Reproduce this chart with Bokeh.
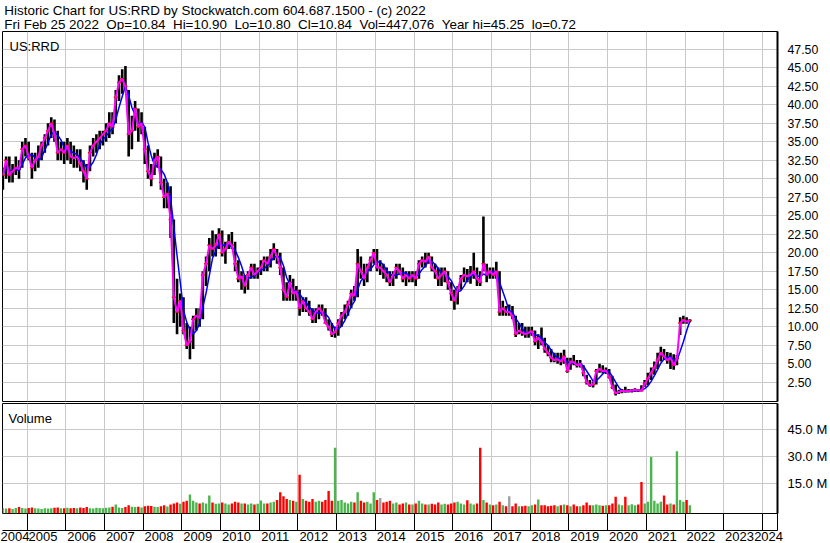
import numpy as np
import pandas as pd
from bokeh.plotting import figure
from bokeh.models import (Range1d, FixedTicker, PrintfTickFormatter, LinearAxis, Label,
                          CustomJSTickFormatter, ColumnDataSource)
from bokeh.layouts import column
from bokeh.embed import file_html
from bokeh.resources import INLINE

FONT = "Liberation Sans"
NB = "\u00a0"

header_line1 = "Historic Chart for US:RRD by Stockwatch.com 604.687.1500 - (c) 2022"
header_line2 = ("Fri Feb 25 2022 " + NB + "Op=10.84 " + NB + "Hi=10.90 " + NB + "Lo=10.80 " + NB
                + "Cl=10.84 " + NB + "Vol=447,076 " + NB + "Year hi=45.25 " + NB + "lo=0.72")
symbol = "US:RRD"
volume_title = "Volume"

# monthly data, May 2004 .. Feb 2022
first_year, first_month = 2004, 5

high = [
    31.5, 33.0, 33.0, 32.0, 33.0, 32.5, 35.0, 35.5,
    35.0, 33.5, 33.5, 34.5, 35.0, 36.0, 37.5, 38.3, 38.0, 36.5, 35.0, 35.0,
    35.5, 35.0, 34.5, 34.0, 34.0, 32.5, 32.0, 34.5, 35.5, 36.0, 36.5, 36.5,
    37.5, 39.0, 39.0, 42.0, 44.0, 44.8, 45.25, 42.0, 38.5, 40.5, 39.5, 39.0,
    37.0, 34.5, 32.0, 33.5, 34.0, 33.0, 30.0, 29.5, 29.0, 24.5, 16.5, 14.5,
    14.0, 10.5, 10.0, 11.5, 12.5, 12.5, 17.5, 19.5, 22.0, 23.0, 22.5, 23.3,
    23.0, 21.5, 22.5, 22.8, 21.5, 19.0, 17.5, 17.0, 17.5, 18.5, 18.5, 18.0,
    19.0, 19.5, 19.5, 20.5, 21.3, 20.5, 20.0, 18.0, 16.0, 17.0, 16.5, 15.5,
    15.0, 14.0, 14.0, 13.5, 12.5, 12.5, 13.0, 13.0, 12.5, 11.0, 10.5, 10.0,
    11.0, 12.0, 13.0, 13.5, 15.0, 15.5, 20.5, 19.5, 18.5, 18.5, 19.5, 20.5,
    20.5, 19.0, 18.5, 18.0, 17.5, 17.5, 18.5, 18.5, 18.0, 17.5, 17.5, 17.5,
    17.5, 19.0, 19.5, 20.0, 20.0, 19.5, 18.5, 18.0, 18.0, 18.0, 17.5, 16.0,
    15.0, 15.5, 17.0, 18.0, 17.8, 18.2, 20.0, 18.0, 17.5, 24.9, 18.5, 18.0,
    18.0, 18.8, 17.5, 13.5, 12.8, 13.0, 12.8, 11.5, 10.5, 10.5, 10.0, 10.0,
    10.0, 9.5, 9.0, 9.9, 8.5, 7.5, 7.0, 6.5, 6.5, 6.5, 6.9, 5.8,
    5.8, 6.2, 5.5, 5.5, 4.8, 3.5, 2.8, 2.6, 4.3, 5.0, 4.8, 4.5,
    4.3, 3.3, 2.2, 1.5, 1.6, 1.9, 1.6, 1.6, 1.7, 1.6, 2.1, 2.8,
    3.8, 4.5, 5.3, 6.5, 7.3, 7.0, 6.6, 6.5, 6.3, 6.2, 11.3, 11.5,
    11.3, 11.0,
]
low = [
    28.5, 30.0, 29.5, 29.5, 30.5, 30.0, 31.5, 33.0,
    32.5, 30.0, 31.0, 31.5, 32.5, 33.5, 34.5, 35.5, 35.0, 32.5, 32.5, 32.0,
    32.5, 32.0, 31.5, 31.5, 31.0, 29.5, 28.5, 31.0, 33.0, 33.5, 34.0, 34.5,
    35.0, 35.5, 36.0, 37.5, 40.5, 41.5, 42.0, 33.0, 34.0, 36.5, 35.0, 36.0,
    32.0, 30.0, 29.0, 30.5, 31.5, 28.5, 26.0, 26.0, 22.0, 10.5, 9.0, 10.0,
    9.0, 7.0, 5.6, 7.0, 9.5, 10.0, 11.0, 15.5, 17.5, 19.5, 19.5, 20.5,
    19.5, 18.5, 20.5, 20.5, 17.5, 16.0, 15.0, 14.5, 15.0, 16.5, 16.5, 16.5,
    17.0, 17.5, 17.5, 18.0, 19.0, 18.5, 17.0, 13.5, 13.5, 13.5, 13.5, 13.5,
    11.5, 12.0, 12.0, 11.5, 10.5, 10.5, 11.0, 11.5, 10.5, 9.5, 8.6, 8.5,
    8.8, 10.0, 11.0, 11.5, 12.5, 13.5, 14.0, 16.5, 15.5, 16.0, 17.5, 18.5,
    17.5, 17.0, 16.5, 16.0, 15.5, 15.5, 16.5, 17.0, 16.0, 15.5, 16.0, 16.0,
    15.5, 16.5, 18.0, 18.0, 18.5, 17.5, 16.5, 15.5, 15.5, 16.0, 15.0, 13.5,
    12.3, 13.0, 15.0, 16.0, 16.0, 15.8, 16.5, 15.5, 15.5, 17.5, 16.0, 16.5,
    16.5, 16.5, 11.5, 11.5, 11.5, 11.5, 11.0, 8.6, 9.0, 8.8, 8.5, 8.5,
    8.8, 7.5, 7.0, 7.5, 6.5, 6.0, 5.2, 5.2, 5.0, 4.8, 5.0, 3.8,
    4.2, 4.8, 4.5, 4.5, 3.3, 2.2, 1.9, 1.8, 2.2, 3.8, 3.7, 3.6,
    3.0, 1.6, 0.72, 0.9, 1.0, 1.1, 1.1, 1.1, 1.2, 1.2, 1.3, 1.9,
    2.1, 2.8, 3.5, 4.3, 5.3, 5.5, 5.0, 4.3, 4.2, 4.8, 8.9, 10.4,
    10.4, 10.6,
]
close = [
    30.5, 32.5, 30.5, 31.0, 31.5, 31.3, 34.0, 34.5,
    33.0, 31.5, 32.5, 33.0, 34.5, 35.5, 36.5, 37.5, 36.0, 33.5, 34.0, 33.5,
    34.5, 33.0, 32.8, 33.0, 32.0, 31.0, 30.0, 33.5, 34.5, 35.0, 35.5, 36.0,
    36.5, 37.5, 37.0, 41.0, 43.0, 43.5, 42.5, 36.0, 36.5, 39.5, 37.0, 37.5,
    34.0, 31.0, 30.0, 32.5, 33.0, 29.5, 27.5, 28.0, 24.5, 14.0, 12.0, 13.5,
    9.5, 7.5, 8.0, 11.0, 11.5, 11.2, 17.0, 18.5, 21.0, 20.5, 21.0, 22.5,
    20.0, 20.5, 21.5, 21.0, 18.5, 16.5, 16.8, 15.5, 17.0, 18.0, 17.0, 17.5,
    18.0, 19.0, 18.5, 19.5, 20.5, 19.5, 18.0, 15.0, 14.0, 16.0, 14.5, 14.8,
    12.5, 13.5, 12.5, 12.0, 11.0, 12.0, 12.5, 12.0, 10.5, 10.0, 9.0, 9.3,
    10.5, 11.5, 12.0, 13.0, 14.5, 14.2, 18.5, 17.5, 16.5, 18.0, 19.0, 20.0,
    18.0, 18.0, 17.5, 17.0, 16.0, 17.0, 18.0, 17.5, 16.5, 17.0, 16.5, 17.0,
    16.5, 18.5, 19.0, 18.8, 19.5, 18.0, 17.5, 16.5, 17.0, 17.5, 16.0, 14.5,
    13.5, 15.0, 16.5, 17.0, 16.8, 17.0, 17.5, 16.5, 16.0, 18.5, 17.0, 17.5,
    17.0, 17.5, 12.0, 12.5, 12.0, 12.0, 11.5, 9.0, 9.5, 9.2, 9.0, 9.2,
    9.4, 8.0, 8.5, 8.0, 7.0, 6.5, 5.8, 5.5, 5.6, 5.3, 6.0, 4.0,
    5.3, 5.2, 4.8, 5.0, 3.8, 2.5, 2.1, 2.2, 4.0, 4.3, 4.0, 4.1,
    3.2, 1.8, 1.0, 1.2, 1.35, 1.3, 1.32, 1.4, 1.45, 1.42, 1.35, 2.3,
    3.0, 3.8, 4.5, 5.5, 6.5, 6.0, 5.5, 5.8, 4.8, 5.7, 10.5, 10.9,
    10.7, 10.84,
]
volume_m = [
    1.5, 1.2, 1.3, 1.0, 1.5, 2.1, 1.5, 1.2,
    1.5, 1.8, 1.3, 1.2, 1.0, 1.4, 1.2, 1.3, 1.6, 1.8, 1.3, 1.4,
    1.6, 1.3, 1.5, 1.4, 1.8, 1.5, 2.0, 1.4, 1.2, 1.6, 1.5, 1.3,
    1.6, 1.8, 2.2, 3.5, 1.8, 1.5, 2.0, 3.0, 2.2, 2.0, 2.2, 1.8,
    2.5, 2.8, 2.6, 2.2, 2.0, 2.5, 3.0, 2.4, 3.5, 4.0, 4.5, 3.8,
    5.0, 5.5, 9.0, 5.5, 4.5, 4.0, 4.5, 4.0, 8.5, 4.5, 3.8, 4.0,
    4.5, 4.0, 3.5, 4.0, 5.0, 4.5, 4.0, 4.0, 3.5, 4.0, 3.5, 3.8,
    5.6, 4.0, 4.0, 4.5, 5.0, 6.0, 10.2, 8.0, 6.5, 6.0, 5.5, 5.0,
    20.0, 6.5, 5.5, 5.0, 6.5, 5.0, 5.5, 5.0, 6.0, 11.0, 5.5, 35.0,
    5.5, 6.0, 4.5, 4.0, 5.0, 4.5, 10.2, 5.5, 4.5, 5.0, 4.0, 10.2,
    6.0, 7.0, 4.5, 5.0, 5.5, 4.0, 4.5, 3.5, 4.0, 4.5, 3.5, 3.5,
    4.0, 5.5, 4.0, 3.5, 3.5, 3.8, 3.5, 4.5, 3.5, 3.8, 3.5, 4.0,
    4.5, 5.0, 4.0, 3.5, 5.8, 4.0, 3.5, 4.0, 35.0, 6.0, 4.5, 3.5,
    3.0, 3.5, 5.0, 3.0, 2.5, 8.1, 2.5, 4.0, 2.5, 2.5, 2.8, 2.5,
    3.0, 3.5, 6.2, 3.0, 3.0, 2.5, 2.8, 3.0, 2.5, 3.0, 3.5, 3.0,
    2.5, 3.5, 2.5, 2.5, 3.0, 4.6, 3.0, 3.0, 3.5, 3.0, 2.8, 3.0,
    3.0, 4.0, 7.7, 3.5, 3.0, 7.7, 3.0, 3.6, 3.0, 3.5, 16.0, 4.0,
    5.0, 29.9, 5.5, 4.0, 5.0, 8.4, 3.5, 4.0, 3.5, 33.0, 6.0, 5.0,
    5.9, 3.0,
]

price_ticks = [2.5, 5.0, 7.5, 10.0, 12.5, 15.0, 17.5, 20.0, 22.5, 25.0, 27.5, 30.0,
               32.5, 35.0, 37.5, 40.0, 42.5, 45.0, 47.5]
volume_ticks = [15, 30, 45]
year_lines = list(range(2005, 2025))
year_labels = list(range(2004, 2025))

# ---------------------------------------------------------------- derived
n = len(close)
t = np.array([first_year + (first_month - 1 + i + 0.5) / 12.0 for i in range(n)])
ma_long = pd.Series(close).rolling(4, min_periods=1).mean().values
prev = np.r_[close[0], close[:-1]]
cl_arr = np.array(close)
vcol = np.where(cl_arr > prev, "#4CB44C", np.where(cl_arr < prev, "#FF0000", "#A0A0A0"))

X0, X1 = 2004.365, 2024.39
PY0, PY1 = -0.1, 49.9
VY0, VY1 = -1.56, 59.6
GRID = "#C8C8C8"
W = 830

src = ColumnDataSource(dict(t=t, hi=high, lo=low, cl=close, ma=ma_long,
                            vol=volume_m, vcol=vcol))

# ---------------------------------------------------------------- header
HH = 30
h = figure(width=W, height=HH, x_range=Range1d(0, W), y_range=Range1d(0, HH),
           min_border=0, toolbar_location=None, output_backend="svg",
           x_axis_location=None, y_axis_location=None)
h.outline_line_color = None
h.xgrid.grid_line_color = None
h.ygrid.grid_line_color = None
h.add_layout(Label(x=2, y=HH, y_offset=-9.5, text=header_line1, text_baseline="alphabetic",
                   text_font=FONT, text_font_size="13.4px", text_color="black"))
h.add_layout(Label(x=2, y=HH, y_offset=-23.5, text=header_line2, text_baseline="alphabetic",
                   text_font=FONT, text_font_size="13.4px", text_color="black"))

# ---------------------------------------------------------------- price
p = figure(width=W, height=372, x_range=Range1d(X0, X1), y_range=Range1d(PY0, PY1),
           toolbar_location=None, output_backend="svg",
           x_axis_location=None, y_axis_location="right",
           min_border_left=2, min_border_right=49, min_border_top=1, min_border_bottom=1)
p.outline_line_color = "black"
p.outline_line_width = 1
p.xgrid.ticker = FixedTicker(ticks=year_lines)
p.ygrid.ticker = FixedTicker(ticks=price_ticks)
for g in (p.xgrid, p.ygrid):
    g.grid_line_color = GRID
    g.grid_line_width = 1
ya = p.yaxis[0]
ya.ticker = FixedTicker(ticks=price_ticks)
ya.formatter = PrintfTickFormatter(format="%.2f")
ya.major_tick_line_color = None
ya.minor_tick_line_color = None
ya.axis_line_color = "black"
ya.axis_line_width = 2
ya.major_label_standoff = 4
ya.major_label_text_font = FONT
ya.major_label_text_font_size = "12.3px"
ya.major_label_text_color = "black"

p.segment(x0="t", y0="lo", x1="t", y1="hi", source=src, line_color="black", line_width=2.6)
p.scatter(x="t", y="cl", source=src, marker="dash", size=4, line_color="#FF0000", line_width=1.5)
p.line(x="t", y="ma", source=src, line_color="#0000FF", line_width=1.5)
p.line(x="t", y="cl", source=src, line_color="#FF00FF", line_width=2)
p.add_layout(Label(x=X0, y=PY1, x_offset=7, y_offset=-15, text=symbol, text_baseline="alphabetic",
                   text_font=FONT, text_font_size="13px", text_color="black"))

# ---------------------------------------------------------------- volume
v = figure(width=W, height=141, x_range=p.x_range, y_range=Range1d(VY0, VY1),
           toolbar_location=None, output_backend="svg",
           x_axis_location=None, y_axis_location="right",
           min_border_left=2, min_border_right=49, min_border_top=1, min_border_bottom=0)
v.outline_line_color = "black"
v.outline_line_width = 1
v.xgrid.ticker = FixedTicker(ticks=year_lines)
v.ygrid.ticker = FixedTicker(ticks=volume_ticks)
for g in (v.xgrid, v.ygrid):
    g.grid_line_color = GRID
    g.grid_line_width = 1
vy = v.yaxis[0]
vy.ticker = FixedTicker(ticks=volume_ticks)
vy.formatter = PrintfTickFormatter(format="%.1f M")
vy.major_tick_line_color = None
vy.minor_tick_line_color = None
vy.axis_line_color = "black"
vy.axis_line_width = 2
vy.major_label_standoff = 4
vy.major_label_text_font = FONT
vy.major_label_text_font_size = "13px"
vy.major_label_text_color = "black"

v.vbar(x="t", top="vol", bottom=VY0, width=0.062, source=src, fill_color="vcol", line_color=None)
v.add_layout(Label(x=X0, y=VY1, x_offset=6, y_offset=-15, text=volume_title, text_baseline="alphabetic",
                   text_font=FONT, text_font_size="13px", text_color="black"))

# year tick band
ax1 = LinearAxis(ticker=FixedTicker(ticks=year_lines + [X1]),
                 formatter=CustomJSTickFormatter(code="return ''"),
                 major_tick_in=0, major_tick_out=17, major_tick_line_color="black",
                 minor_tick_line_color=None, axis_line_color=None,
                 major_label_standoff=0, major_label_text_font_size="1px")
v.add_layout(ax1, "below")

label_pos = []
for yr in year_labels:
    if yr == year_labels[0]:
        label_pos.append(yr + 0.635)
    elif yr == year_labels[-1]:
        label_pos.append(yr + 0.16)
    else:
        label_pos.append(yr + 0.41)
ax2 = LinearAxis(ticker=FixedTicker(ticks=label_pos),
                 formatter=CustomJSTickFormatter(code="return String(Math.floor(tick + 0.001))"),
                 major_tick_in=0, major_tick_out=0, minor_tick_line_color=None,
                 axis_line_color="black", axis_line_width=1,
                 major_label_standoff=1, major_label_text_font=FONT,
                 major_label_text_font_size="13px", major_label_text_color="black")
v.add_layout(ax2, "below")

layout = column(h, p, v)
open("out.html", "w").write(file_html(layout, INLINE))
